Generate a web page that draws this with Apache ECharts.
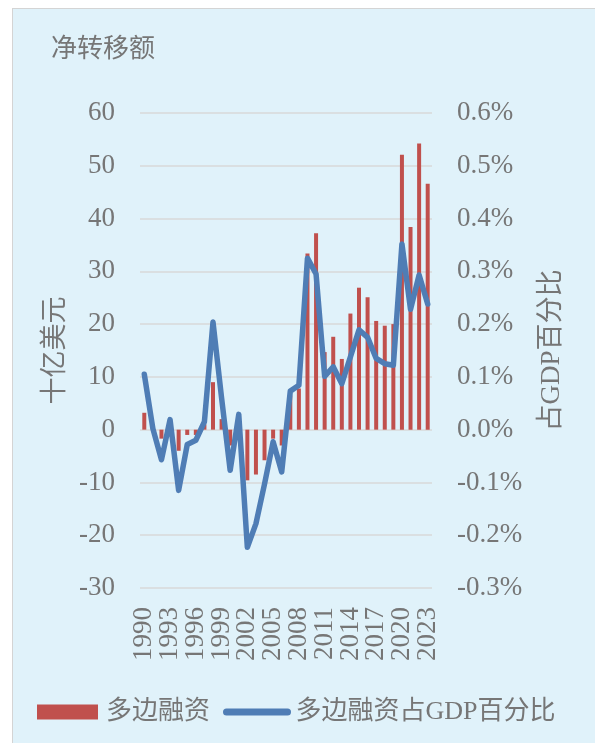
<!DOCTYPE html>
<html>
<head>
<meta charset="utf-8">
<script src="https://cdn.jsdelivr.net/npm/echarts@6/dist/echarts.min.js"></script>
<style>
  body { margin: 0; background: #fff; }
  #wrap { position: relative; width: 595px; height: 743px; }
  #panel { position: absolute; left: 12px; top: 8px; width: 582px; height: 734px;
           background: #e0f2fa; border-left: 1px solid #d4d4d4; border-top: 1px solid #d4d4d4; }
  #chart { position: absolute; left: 0; top: 0; width: 595px; height: 743px; }
</style>
</head>
<body>
<div id="wrap">
  <div id="panel"></div>
  <div id="chart"></div>
</div>
<script>
// 年份
var years = [];
for (var y = 1990; y <= 2023; y++) years.push(String(y));

// 多边融资（十亿美元）
var netTransfer = [3.2, 0.3, -1.7, -0.5, -4.0, -1.0, -1.0, 1.0, 9.0, 2.0,
  -3.0, -1.0, -9.6, -8.5, -5.8, -1.7, -3.0, 6.5, 7.8, 33.4,
  37.2, 14.7, 17.6, 13.4, 22.0, 26.9, 25.1, 20.6, 19.7, 20.0,
  52.1, 38.4, 54.2, 46.6];

// 占GDP百分比（%）
var gdpShare = [0.105, 0.002, -0.057, 0.019, -0.115, -0.028, -0.020, 0.015, 0.204, 0.060,
  -0.077, 0.029, -0.223, -0.178, -0.103, -0.023, -0.080, 0.073, 0.084, 0.325,
  0.295, 0.101, 0.119, 0.087, 0.138, 0.189, 0.175, 0.135, 0.125, 0.122,
  0.352, 0.228, 0.293, 0.238];

var fontFam = '"Liberation Serif", "Noto Sans CJK SC", serif';
var cjkFam = '"Noto Sans CJK SC", sans-serif';
var grey = '#767676';

var myChart = echarts.init(document.getElementById('chart'));
var option = {
  backgroundColor: 'transparent',
  textStyle: { fontFamily: fontFam, color: grey },
  title: {
    text: '净转移额',
    left: 51,
    top: 34,
    padding: 0,
    textStyle: { fontFamily: cjkFam, fontSize: 26, fontWeight: 'normal', color: grey }
  },
  legend: {
    left: 37,
    top: 699,
    padding: 0,
    itemWidth: 61,
    itemHeight: 15,
    itemGap: 13,
    textStyle: { fontFamily: fontFam, fontSize: 26, color: grey, padding: [0, 0, 0, 3] },
    data: [
      { name: '多边融资', icon: 'rect' },
      {
        name: '多边融资占GDP百分比',
        itemStyle: { opacity: 0 },
        lineStyle: { width: 7, cap: 'round', color: '#4f7db5' }
      }
    ]
  },
  grid: { left: 140, right: 163, top: 113, bottom: 155 },
  xAxis: {
    type: 'category',
    data: years,
    axisLine: { show: false },
    axisTick: { show: false },
    axisLabel: {
      interval: 0,
      rotate: 90,
      margin: 19,
      fontSize: 27,
      fontFamily: fontFam,
      color: grey,
      hideOverlap: false,
      formatter: function (v, i) { return i % 3 === 0 ? v : ''; }
    }
  },
  yAxis: [
    {
      type: 'value',
      min: -30, max: 60, interval: 10,
      name: '十亿美元',
      nameLocation: 'middle',
      nameGap: 74,
      nameRotate: 90,
      nameTextStyle: { fontFamily: cjkFam, fontSize: 27, color: grey },
      axisLabel: { fontSize: 27, margin: 25, color: grey, fontFamily: fontFam },
      splitLine: { lineStyle: { color: '#d9d9d9', width: 1.5 } }
    },
    {
      type: 'value',
      min: -0.3, max: 0.6, interval: 0.1,
      name: '占GDP百分比',
      nameLocation: 'middle',
      nameGap: 106,
      nameRotate: 90,
      nameTextStyle: { fontFamily: fontFam, fontSize: 27, color: grey },
      axisLabel: {
        fontSize: 27, margin: 25, color: grey, fontFamily: fontFam,
        formatter: function (v) { return v.toFixed(1) + '%'; }
      },
      splitLine: { show: false }
    }
  ],
  series: [
    {
      name: '多边融资',
      type: 'bar',
      data: netTransfer,
      barWidth: 4,
      itemStyle: { color: '#c0504d' }
    },
    {
      name: '多边融资占GDP百分比',
      type: 'line',
      yAxisIndex: 1,
      data: gdpShare,
      symbol: 'none',
      lineStyle: { color: '#4f7db5', width: 5.5, cap: 'round', join: 'round' },
      itemStyle: { color: '#4f7db5' }
    }
  ]
};
myChart.setOption(option);
</script>
</body>
</html>
